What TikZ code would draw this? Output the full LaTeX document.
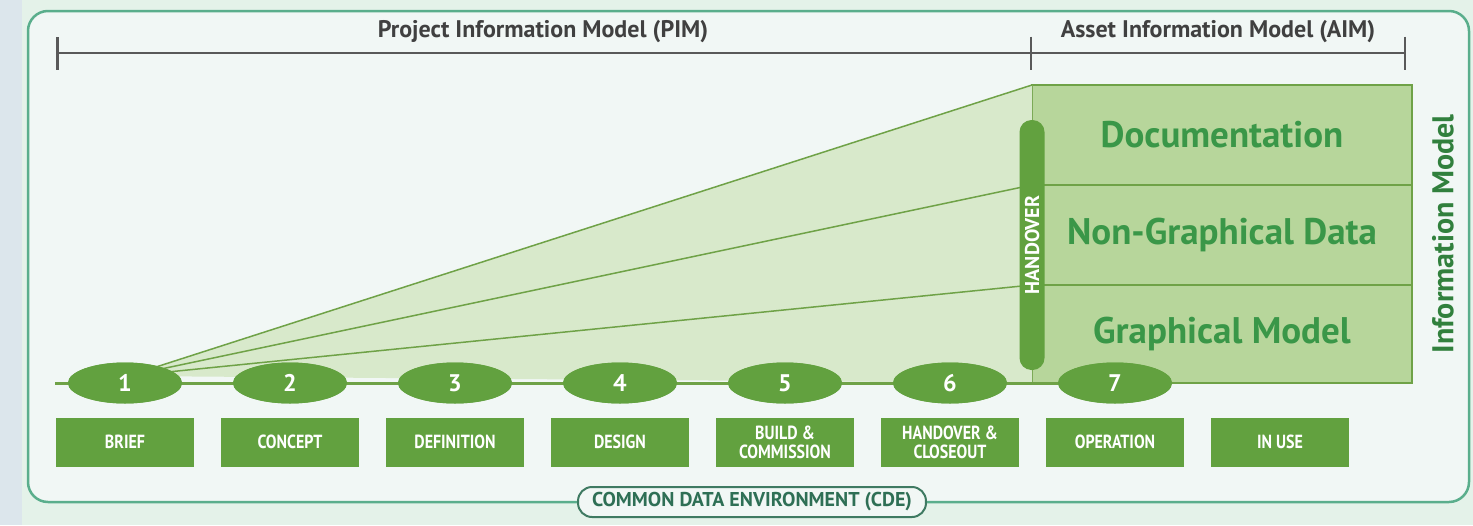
\documentclass[tikz,border=0pt]{standalone}
\usepackage{fontspec}
\setmainfont{PT Sans}
\newfontfamily\condfont[FakeStretch=0.84]{PT Sans Bold}
\usetikzlibrary{shapes.geometric,positioning,arrows.meta}
\definecolor{bgCol}{HTML}{E4F2E9}
\definecolor{stripCol}{HTML}{DCE6EC}
\definecolor{panelCol}{HTML}{F1F7F5}
\definecolor{panelEdge}{HTML}{5AAE8C}
\definecolor{stepGreen}{HTML}{62A13F}
\definecolor{layerFill}{HTML}{B7D69B}
\definecolor{layerEdge}{HTML}{6FA247}
\definecolor{wedgeFill}{HTML}{D8E9CB}
\definecolor{textGreen}{HTML}{3A9748}
\definecolor{cdeText}{HTML}{2E6F55}

\tikzset{
  stage/.style={ellipse, fill=stepGreen, minimum width=114pt, minimum height=41pt,
    inner sep=0pt, text=white, font=\bfseries\fontsize{24}{24}\selectfont},
  phase/.style={rectangle, fill=stepGreen, minimum width=138pt, minimum height=49pt,
    inner sep=1pt, align=center, text=white,
    font=\condfont\fontsize{19}{19}\selectfont},
  layer/.style={rectangle, draw=layerEdge, fill=layerFill, line width=1.5pt,
    minimum width=380pt, minimum height=100pt, outer sep=0pt, text=textGreen,
    font=\bfseries\fontsize{37}{37}\selectfont},
  ray/.style={draw=layerEdge, line width=1.5pt},
  timeline/.style={draw=layerEdge, line width=3pt},
  bracket/.style={draw=black!65, line width=2.5pt},
  headlbl/.style={text=black!75, font=\bfseries\fontsize{24}{24}\selectfont},
}

\begin{document}
\begin{tikzpicture}[x=1pt,y=-1pt]
  \useasboundingbox (0,0) rectangle (1473,525);
  \fill[bgCol] (0,0) rectangle (1473,525);
  \fill[stripCol] (0,0) rectangle (22,525);
  \draw[panelEdge, fill=panelCol, line width=2.5pt, rounded corners=20pt] (28,11) rectangle (1469,502);

  % header brackets
  \coordinate (pimL) at (56,53);
  \coordinate (pimR) at (1032,53);
  \coordinate (aimR) at (1406,53);
  \draw[bracket, {Bar[width=33pt]}-{Bar[width=33pt]}] (pimL) -- (pimR);
  \draw[bracket, -{Bar[width=33pt]}] (pimR) -- (aimR);
  \node[headlbl] (pim) at (543,32) {Project Information Model (PIM)};
  \node[headlbl] (aim) at (1218,32) {Asset Information Model (AIM)};

  % the three layers of the information model
  \node[layer, anchor=north west] (doc) at (1032,85) {Documentation};
  \node[layer, below=0pt of doc] (ngd) {Non-Graphical Data};
  \node[layer, below=0pt of ngd, minimum height=98pt] (gm) {Graphical Model};
  \node[rotate=90, text=textGreen!85!black, font=\bfseries\fontsize{30}{30}\selectfont]
    (im) at (1443,234) {Information Model};

  % growing wedge
  \coordinate (apx) at (128,376);
  \fill[wedgeFill] (apx) -- (doc.north west) -- (gm.south west) -- cycle;
  \foreach \l in {doc,ngd,gm}
    \draw[ray] (apx) -- (\l.north west);

  % timeline and stages
  \coordinate (tl0) at (55,383);
  \foreach \i in {1,...,7}
    \node[stage] (s\i) at ({125+165*(\i-1)},383) {};
  \draw[timeline] (tl0) -- (s7.center);
  \foreach \i in {1,...,7}
    \node[stage] at (s\i) {\i};

  % handover pill
  \node[rotate=90, fill=stepGreen, rounded corners=12pt, minimum width=250pt,
    minimum height=25pt, inner sep=0pt, text=white,
    font=\bfseries\fontsize{20}{20}\selectfont] (ho) at (1032,245) {HANDOVER};

  % phase labels
  \foreach \t [count=\i] in {BRIEF, CONCEPT, DEFINITION, DESIGN, {BUILD \&\\COMMISSION},
      {HANDOVER \&\\CLOSEOUT}, OPERATION, IN USE}
    \node[phase] (p\i) at ({125+165*(\i-1)},442) {\t};

  % common data environment
  \node[draw=panelEdge!70!black, fill=panelCol, line width=2pt, rounded corners=14pt,
    minimum height=30pt, inner xsep=14pt, inner ysep=2pt, text=cdeText,
    font=\bfseries\fontsize{20}{20}\selectfont] (cde) at (752,502)
    {COMMON DATA ENVIRONMENT (CDE)};
\end{tikzpicture}
\end{document}
